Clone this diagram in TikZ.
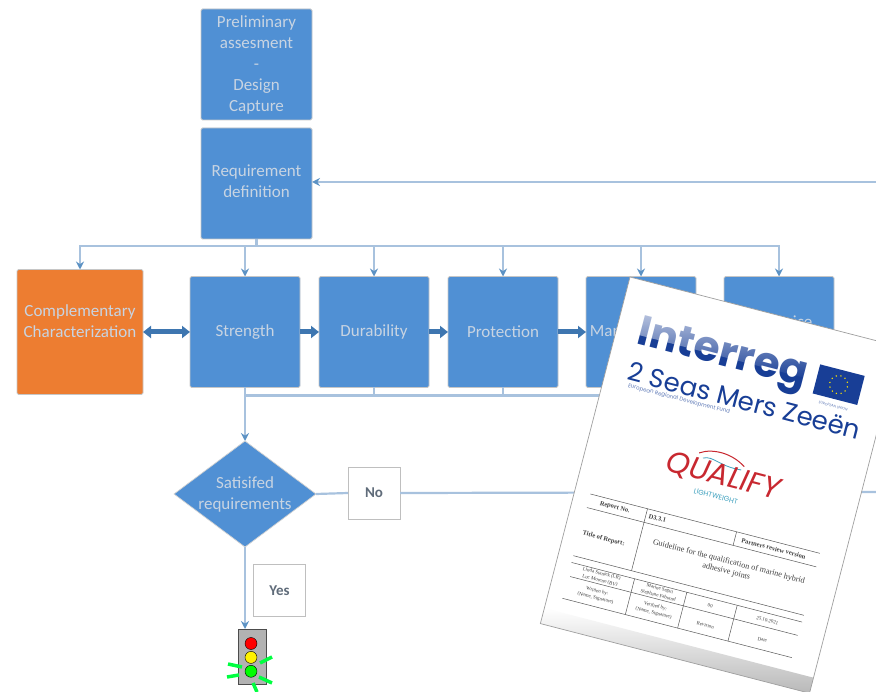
\documentclass[tikz,border=0pt]{standalone}
\usepackage{fontspec}
\setmainfont{Carlito}
\newfontfamily\logofont{Poppins}
\newfontfamily\reportfont{Liberation Serif}
\definecolor{StepBlue}{RGB}{80, 144, 212}
\definecolor{StepOrange}{RGB}{237, 125, 49}
\definecolor{LinkBlue}{RGB}{168, 194, 222}
\definecolor{TipBlue}{RGB}{92, 146, 196}
\definecolor{FlowBlue}{RGB}{62, 118, 176}
\definecolor{StepText}{RGB}{200, 212, 226}
\definecolor{TagText}{RGB}{96, 108, 122}
\definecolor{EuroBlue}{RGB}{24, 62, 150}
\definecolor{LogoRed}{RGB}{200, 40, 48}
\definecolor{LogoTeal}{RGB}{60, 160, 190}
\usetikzlibrary{arrows.meta, positioning, shapes, calc, fadings}

\begin{document}
\begin{tikzpicture}[x=1pt, y=-1pt,
        stepbox/.style={draw=gray!45, line width=0.8pt, rounded corners=1.5pt, fill=StepBlue, text=StepText, minimum width=110pt, minimum height=111pt, inner sep=0pt, outer sep=0pt, align=center, font=\fontsize{17}{21}\selectfont},
        tagbox/.style={draw=gray!50, line width=0.7pt, fill=white, text=TagText, minimum size=52pt, inner sep=0pt, outer sep=0pt, font=\fontsize{15}{18}\selectfont\bfseries},
        link/.style={draw=LinkBlue, line width=2.2pt},
        linkto/.style={link, -{Stealth[length=8pt, width=8pt, color=TipBlue]}},
        flow/.style={draw=FlowBlue, line width=5pt, -{Triangle[length=8pt, width=12pt]}},
        reporttext/.style={transform shape, inner sep=0pt, align=center, text=black!75, font=\reportfont\fontsize{5}{7}\selectfont},
        rule/.style={draw=black!65, line width=0.5pt},
        ray/.style={draw=green!75!cyan, line width=3.5pt}]
    \useasboundingbox (0,0) rectangle (876,692);
    \clip (0,0) rectangle (876,692);

    % flow chart
    \node[stepbox, minimum width=111pt] (prelim) at (256.5,64.5) {Preliminary\\assesment\\-\\Design\\Capture};
    \node[stepbox, minimum width=111pt, below=8pt of prelim] (req) {Requirement\\definition\\[-16.5pt]~};
    \node[stepbox] (strength) at (245,332) {Strength};
    \node[stepbox, right=19pt of strength] (dura) {Durability};
    \node[stepbox, right=19pt of dura] (prot) {Protection};
    \node[stepbox, right=28pt of prot] (manu) {Manufacturing};
    \node[stepbox, right=28pt of manu] (serv) {In-service\\~};
    \node[stepbox, fill=StepOrange, minimum width=126pt, minimum height=125pt, left=47pt of strength] (compl) {Complementary\\Characterization\\~};
    \node[diamond, aspect=1.34, draw=gray!35, line width=0.7pt, fill=StepBlue, text=StepText, minimum width=142pt, minimum height=106pt, inner sep=0pt, outer sep=0pt, align=center, font=\fontsize{17}{21}\selectfont] (sat) at (245,494) {Satisifed\\requirements};
    \node[tagbox] (no) at (374,493) {No};
    \node[tagbox] (yes) at (279.5,590.5) {Yes};
    \node[draw=black!70, line width=0.8pt, fill=gray!60, minimum width=28pt, minimum height=55pt, inner sep=0pt, outer sep=0pt] (light) at (252,656.5) {};

    \coordinate (topbus) at ($(req.south)+(0,7)$);
    \coordinate (lowbus) at ($(strength.south)+(0,8)$);
    \coordinate (rightlow) at (880,492);
    \coordinate (righttop) at (880,182);

    \draw[link] (req.south) -- (topbus);
    \foreach \target in {compl, strength, dura, prot, manu, serv} {
        \draw[linkto] (topbus) -| (\target.north);
    }
    \draw[link] (strength.south) -- (lowbus);
    \foreach \source in {dura, prot, manu, serv} {
        \draw[link] (\source.south) |- (lowbus);
    }
    \draw[linkto] (lowbus) -- (sat.north);
    \draw[link] (sat.east) -- (no.west);
    \draw[link] (no.east) -- (rightlow);
    \draw[linkto] (righttop) -- (righttop -| req.east);
    \draw[linkto] (sat.south) -- (sat.south |- light.north);

    \draw[flow, {Triangle[length=8pt, width=12pt]}-{Triangle[length=8pt, width=12pt]}] (compl.east) -- (compl.east -| strength.west);
    \draw[flow] (strength.east |- dura.center) -- (dura.west);
    \draw[flow] (dura.east) -- (prot.west);
    \draw[flow] (prot.east) -- (manu.west);
    \draw[flow] (manu.east) -- (serv.west);

    % traffic light
    \node[circle, draw=black, fill=red, minimum size=12pt, inner sep=0pt] (lampr) at (251,643.5) {};
    \node[circle, draw=black, fill=yellow, minimum size=12pt, inner sep=0pt, below=1.5pt of lampr] (lampy) {};
    \node[circle, draw=black, fill=green, minimum size=12pt, inner sep=0pt, below=1.5pt of lampy] (lampg) {};
    \draw[ray] (228,664) -- (242,667);
    \draw[ray] (227,677) -- (239,675);
    \draw[ray] (260,663) -- (272,657);
    \draw[ray] (259,677) -- (272,683);
    \draw[ray] (253,683) -- (257,692);

    % report cover
    \begin{scope}[shift={(630,277)}, rotate=-14.5]
        \fill[white] (0,0) rectangle (278,358);
        \shade[top color=white, bottom color=gray!55] (0,342) rectangle (278,358);
        \draw[gray!75, line width=0.7pt] (0,358) -- (0,0) -- (278,0) -- (278,358) -- cycle;

        \node[transform shape, inner sep=0pt, text=EuroBlue, font=\logofont\bfseries\fontsize{42}{42}\selectfont] (interreg) at (109,54) {Interreg};
        \fill[white, path fading=south, opacity=0.75] (15,28) rectangle (200,54);
        \node[transform shape, inner sep=0pt, text=EuroBlue, font=\logofont\fontsize{26}{26}\selectfont] (seas) at (142,91) {2 Seas Mers Zeeën};
        \node[transform shape, inner sep=0pt, text=EuroBlue!70, font=\logofont\fontsize{5.5}{6}\selectfont] (fund) at (78,106) {European Regional Development Fund};
        \node[transform shape, fill=EuroBlue, minimum width=46pt, minimum height=30pt, inner sep=0pt] (flag) at (229,52) {};
        \foreach \a in {0,30,...,330} {
            \fill[yellow!90!orange] (flag.center) ++(\a:9pt) circle (0.8pt);
        }
        \node[transform shape, inner sep=0pt, text=EuroBlue!70, font=\logofont\fontsize{3.5}{4}\selectfont] (union) at (229,74) {EUROPEAN UNION};

        \draw[LogoRed, line width=1pt] (111,153) .. controls (123,145) and (143,145) .. (158,155);
        \draw[LogoTeal, line width=0.8pt] (116,157) .. controls (126,152) and (133,161) .. (156,159);
        \node[transform shape, inner sep=0pt, text=LogoRed, font=\logofont\itshape\fontsize{30}{30}\selectfont] (qualify) at (140,170) {QUALIFY};
        \node[transform shape, inner sep=0pt, text=LogoTeal, font=\logofont\fontsize{7}{7}\selectfont] (lightw) at (138,191) {LIGHTWEIGHT};

        \draw[rule] (16,220) -- (253,220);
        \draw[rule] (16,234) -- (253,234);
        \draw[rule] (15,284) -- (253,284);
        \draw[rule] (15,291) -- (253,291);
        \draw[rule] (17,305) -- (252,305);
        \draw[rule] (15,328) -- (252,328);
        \draw[rule] (75,220) -- (75,284);
        \draw[rule] (167,220) -- (167,234);
        \draw[rule] (80,291) -- (80,328);
        \draw[rule] (134,291) -- (134,328);
        \draw[rule] (186,291) -- (186,328);

        \node[reporttext, font=\reportfont\bfseries\fontsize{6.5}{8}\selectfont] (repno) at (43,227) {Report No.};
        \node[reporttext, font=\reportfont\bfseries\fontsize{6.5}{8}\selectfont] (repid) at (87,227) {D3.3.1};
        \node[reporttext, font=\reportfont\bfseries\fontsize{6.5}{8}\selectfont] (repver) at (207,227) {Partners review version};
        \node[reporttext, font=\reportfont\bfseries\fontsize{6.5}{8}\selectfont] (titlelab) at (40,260) {Title of Report:};
        \node[reporttext, font=\reportfont\fontsize{8.2}{10}\selectfont] (title) at (167,256) {Guideline for the qualification of marine hybrid\\adhesive joints};
        \node[reporttext] (auth) at (47,298) {Linda Staniek (LR)\\Luc Moreno (BV)};
        \node[reporttext] (autlab) at (47,316) {Written by:\\(Name, Signature)};
        \node[reporttext] (veri) at (107,298) {Marine Segui\\Stephane Fabrand};
        \node[reporttext] (verlab) at (107,316) {Verified by:\\(Name, Signature)};
        \node[reporttext] (rev) at (160,298) {00};
        \node[reporttext] (revlab) at (160,318) {Revision};
        \node[reporttext] (date) at (219,298) {25.10.2021};
        \node[reporttext] (datelab) at (219,318) {Date};
    \end{scope}
\end{tikzpicture}
\end{document}
